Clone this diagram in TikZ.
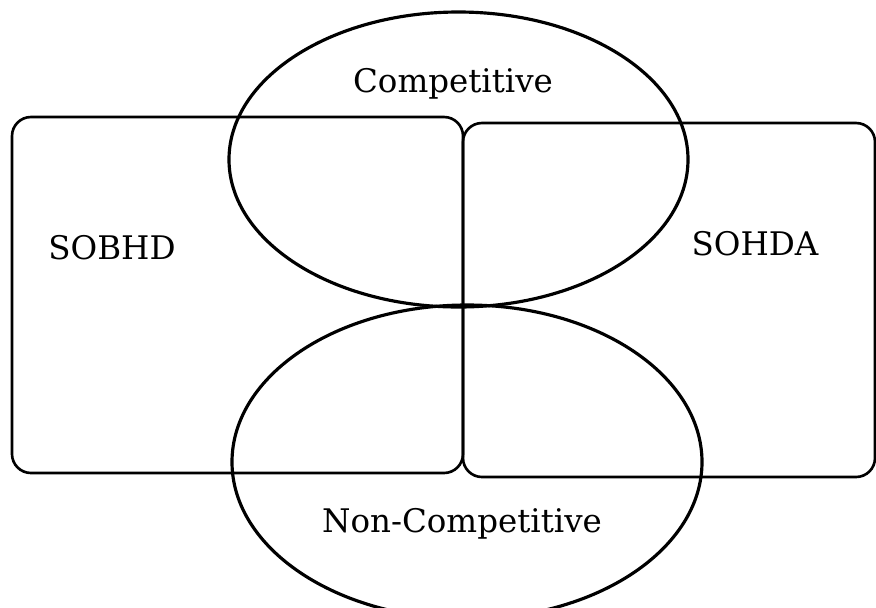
\documentclass[tikz,border=0pt]{standalone}
\usepackage{fontspec}
\setmainfont{DejaVu Serif}
\usepackage{tikz}
\usetikzlibrary{shapes.geometric}

\begin{document}
\begin{tikzpicture}[
  half/.style={draw,line width=1.5pt,rounded corners=0.38cm,inner sep=0pt},
  oval/.style={draw,ellipse,line width=1.8pt,inner sep=0pt},
  lab/.style={font=\fontsize{18.5}{22}\selectfont,anchor=base}]
 \useasboundingbox (0,0) rectangle (17.52,-12.14);
 % sides
 \node[half,minimum width=9.02cm,minimum height=7.12cm] (sobhd) at (4.75,-5.9) {};
 \node[half,minimum width=8.24cm,minimum height=7.08cm] (sohda) at (13.38,-6.0) {};
 % ovals
 \node[oval,minimum width=9.18cm,minimum height=5.9cm] (comp) at (9.17,-3.19) {};
 \node[oval,minimum width=9.4cm,minimum height=6.28cm] (noncomp) at (9.34,-9.24) {};
 \node[lab] (tcomp) at (9.06,-1.84) {Competitive};
 \node[lab] (tsobhd) at (2.24,-5.18) {SOBHD};
 \node[lab] (tsohda) at (15.1,-5.1) {SOHDA};
 \node[lab] (tnoncomp) at (9.24,-10.64) {Non-Competitive};
\end{tikzpicture}
\end{document}
